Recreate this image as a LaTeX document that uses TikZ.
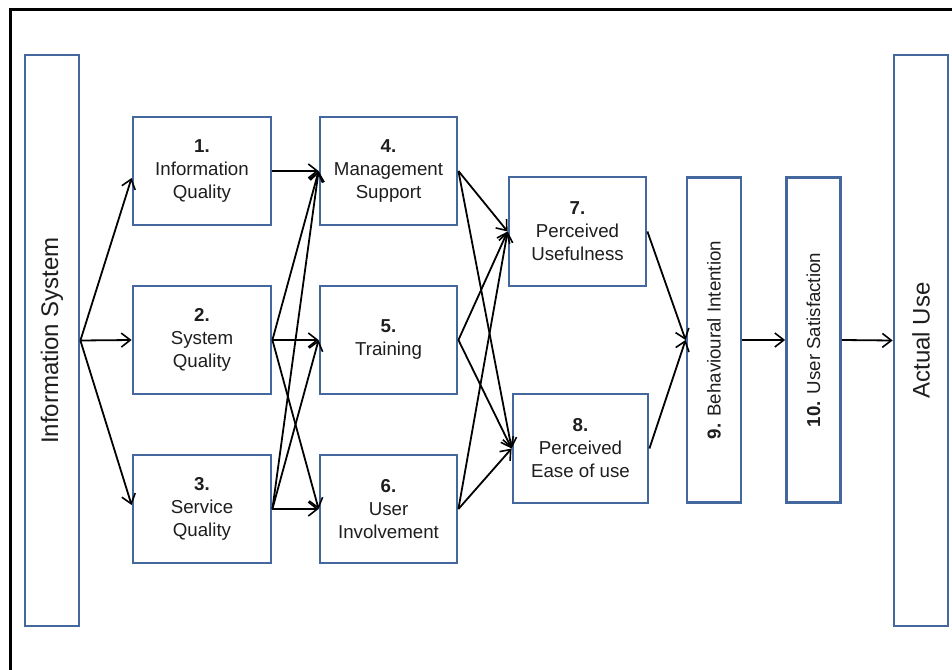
\documentclass[tikz,border=0pt]{standalone}
\usepackage{fontspec}
\setmainfont{Liberation Sans}
\usetikzlibrary{arrows.meta}
\definecolor{boxblue}{RGB}{68,104,158}
\definecolor{ink}{RGB}{30,30,30}
\begin{document}
\begin{tikzpicture}[x=1pt,y=-1pt,
  every node/.style={text=ink,font=\fontsize{18.7}{23}\selectfont,align=center,inner sep=0pt},
  blk/.style={draw=boxblue,line width=2.8pt,fill=white,minimum width=#1},
  blk/.default=138pt,
  sq/.style={minimum height=108pt},
  tall/.style={draw=boxblue,line width=2.8pt,fill=white,minimum width=54pt,minimum height=571pt},
  mid/.style={draw=boxblue,line width=2.8pt,fill=white,minimum width=54pt,minimum height=325pt},
  vlabel/.style={rotate=90},
  biglabel/.style={rotate=90,font=\fontsize{24}{28}\selectfont},
  link/.style={draw=black,line width=1.8pt,-{Straight Barb[length=9pt,width=14pt,line width=1.6pt]}}
]
\useasboundingbox (0,0) rectangle (952,669);
\begin{scope}
\clip (0,0) rectangle (952,669);
\draw[line width=3pt,black] (10.5,10) rectangle (990,700);
\end{scope}

% outer columns
\node[tall] (is) at (52,340.5) {};
\node[biglabel] (istext) at (is.center) {Information System};
\node[tall] (au) at (921,340.5) {};
\node[biglabel] (autext) at (au.center) {Actual Use};

% first column
\node[blk,sq] (b1) at (202,171) {\textbf{1.}\\Information\\Quality};
\node[blk,sq] (b2) at (202,340) {\textbf{2.}\\System\\Quality};
\node[blk,sq] (b3) at (202,509) {\textbf{3.}\\Service\\Quality};

% second column
\node[blk=137pt,sq] (b4) at (388.5,171) {\textbf{4.}\\Management\\Support};
\node[blk=137pt,sq] (b5) at (388.5,340) {\textbf{5.}\\Training};
\node[blk=137pt,sq] (b6) at (388.5,509) {\textbf{6.}\\User\\Involvement};

% perceptions
\node[blk=137pt,minimum height=109pt] (b7) at (577.5,231.5) {\textbf{7.}\\Perceived\\Usefulness};
\node[blk=135pt,minimum height=109pt] (b8) at (580.5,448.5) {\textbf{8.}\\Perceived\\Ease of use};

% intention and satisfaction
\node[mid] (b9) at (714,340) {};
\node[vlabel] (b9text) at (b9.center) {\textbf{9.} Behavioural Intention};
\node[mid] (b10) at (813.5,340) {};
\node[vlabel] (b10text) at (b10.center) {\textbf{10.} User Satisfaction};

% connectors
\draw[link] (is.east) -- ([yshift=-7pt]b1.west);
\draw[link] (is.east) -- (b2.west);
\draw[link] (is.east) -- ([yshift=4pt]b3.west);

\draw[link] (b1.east) -- (b4.west);
\foreach \s in {b2,b3}
  \foreach \t in {b4,b5,b6}
    \draw[link] (\s.east) -- (\t.west);

\foreach \s in {b4,b5,b6}
  \foreach \t in {b7,b8}
    \draw[link] (\s.east) -- (\t.west);

\draw[link] (b7.east) -- (b9.west);
\draw[link] (b8.east) -- (b9.west);
\draw[link] (b9.east) -- (b10.west);
\draw[link] (b10.east) -- (au.west);
\end{tikzpicture}
\end{document}
